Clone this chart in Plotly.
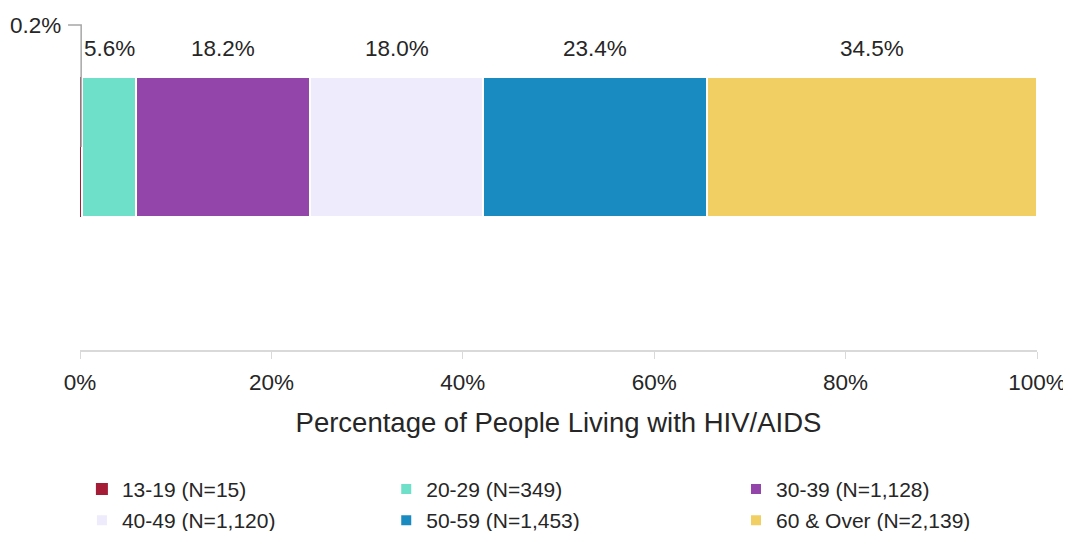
import plotly.graph_objects as go

# Data
age_groups = ["13-19", "20-29", "30-39", "40-49", "50-59", "60 & Over"]
counts = [15, 349, 1128, 1120, 1453, 2139]
pct_labels = ["0.2%", "5.6%", "18.2%", "18.0%", "23.4%", "34.5%"]
colors = ["#A51C36", "#6EE0C9", "#9345AA", "#EEEBFC", "#1A8BC1", "#F2CF62"]
legend_ids = ["legend", "legend2", "legend3", "legend", "legend2", "legend3"]

total = sum(counts)
shares = [c / total for c in counts]

TEXT = "#262626"
FONT = "Liberation Sans"
Y_MIN, Y_MAX = -1.45, 0.907

fig = go.Figure()

for i, (name, n, share, col, lg) in enumerate(zip(age_groups, counts, shares, colors, legend_ids)):
    fig.add_trace(go.Bar(
        y=[0], x=[share],
        orientation="h",
        width=1,
        name=f"{name} (N={n:,})",
        marker=dict(color=col, line=dict(color="white", width=0 if i == 0 else 2)),
        legend=lg,
        legendgroup=name,
        hovertemplate=f"{name}: %{{x:.1%}}<extra></extra>",
    ))


def ypaper(v):
    return (v - Y_MIN) / (Y_MAX - Y_MIN)


# value labels above each segment
start = 0
for i, (share, lab) in enumerate(zip(shares, pct_labels)):
    center = start + share / 2
    if i == 0:
        # tiny segment: label off to the left with an elbow leader line
        label_y = 0.5 + 52 / 140
        fig.add_annotation(x=start, y=label_y, xref="x", yref="y",
                           text=lab, showarrow=False,
                           xanchor="right", yanchor="middle",
                           xshift=-17, yshift=-1,
                           font=dict(size=22.5, color=TEXT))
        fig.add_shape(type="path",
                      path=(f"M {start - 0.0125} {ypaper(label_y)} "
                            f"L {center} {ypaper(label_y)} L {center} {ypaper(0)}"),
                      xref="paper", yref="paper",
                      line=dict(color="#A6A6A6", width=1.5))
    else:
        fig.add_annotation(x=center, y=0.5, xref="x", yref="y",
                           text=lab, showarrow=False,
                           yanchor="bottom", yshift=14,
                           font=dict(size=22.5, color=TEXT))
    start += share

legend_style = dict(orientation="v", xanchor="left", yanchor="top",
                    bgcolor="rgba(0,0,0,0)", font=dict(size=21, color=TEXT),
                    tracegroupgap=1, y=-0.36)

# page body has an 8px margin, so the figure is sized/placed to compensate
fig.update_layout(
    width=1063, height=523,
    margin=dict(l=72, r=34, t=12, b=181, autoexpand=False),
    barmode="stack",
    plot_bgcolor="white", paper_bgcolor="white",
    font=dict(family=FONT, color=TEXT),
    showlegend=True,
    legend=dict(legend_style, x=0.002),
    legend2=dict(legend_style, x=0.320),
    legend3=dict(legend_style, x=0.6855),
)

fig.update_xaxes(
    range=[0, 1], dtick=0.2, tickformat=".0%",
    showgrid=False, zeroline=False,
    showline=True, linecolor="#D9D9D9", linewidth=1.5,
    ticks="outside", tickcolor="#D9D9D9", ticklen=7,
    ticklabelstandoff=4,
    tickfont=dict(size=22.5, color=TEXT),
    title=dict(text="Percentage of People Living with HIV/AIDS",
               font=dict(size=27.5, color=TEXT), standoff=19),
)
fig.update_yaxes(range=[Y_MIN, Y_MAX], visible=False, fixedrange=True)

fig.write_html("out.html")
